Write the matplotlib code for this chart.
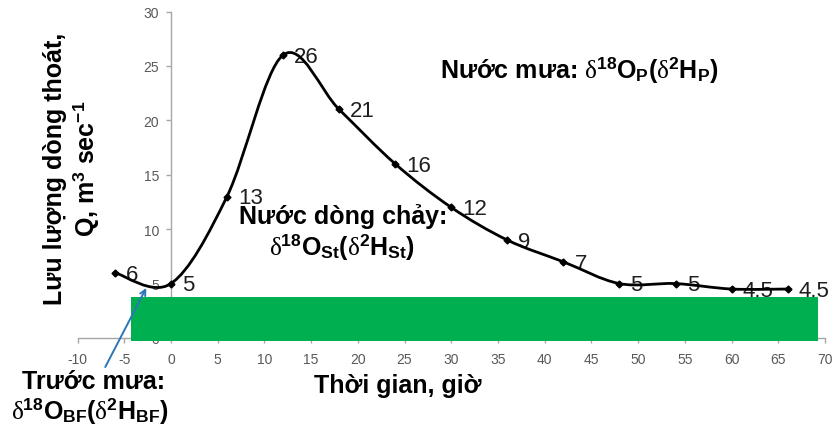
import numpy as np
import matplotlib
matplotlib.use("Agg")
import matplotlib.pyplot as plt
from matplotlib.path import Path
from matplotlib.patches import PathPatch, Rectangle

# data
hours = [-6, 0, 6, 12, 18, 24, 30, 36, 42, 48, 54, 60, 66]
flow = [6, 5, 13, 26, 21, 16, 12, 9, 7, 5, 5, 4.5, 4.5]
flow_labels = ["6", "5", "13", "26", "21", "16", "12", "9", "7", "5", "5", "4.5", "4.5"]
xticks = list(range(-10, 71, 5))
yticks = list(range(0, 31, 5))

plt.rcParams['font.family'] = ['Liberation Sans', 'DejaVu Sans']
plt.rcParams['mathtext.fontset'] = 'custom'
plt.rcParams['mathtext.rm'] = 'Liberation Serif'
plt.rcParams['mathtext.it'] = 'Liberation Serif:italic'
plt.rcParams['mathtext.bf'] = 'Liberation Sans:bold'
plt.rcParams['mathtext.sf'] = 'Liberation Sans'

W, H = 832, 427
fig = plt.figure(figsize=(W/100, H/100), dpi=100)
ax = fig.add_axes([77.5/W, 1-339/H, (825-77.5)/W, (339-12.5)/H])
ax.set_xlim(-10, 70)
ax.set_ylim(0, 30)

# excel-like smoothed line (bezier through the points)
def smooth_path(xs, ys):
    pts = np.column_stack([xs, ys]).astype(float)
    n = len(pts)
    verts = [pts[0]]
    codes = [Path.MOVETO]
    for i in range(n-1):
        p0 = pts[max(i-1, 0)]
        p1 = pts[i]
        p2 = pts[i+1]
        p3 = pts[min(i+2, n-1)]
        verts += [p1 + (p2-p0)/6, p2 - (p3-p1)/6, p2]
        codes += [Path.CURVE4]*3
    return Path(verts, codes)

ax.add_patch(PathPatch(smooth_path(hours, flow), fill=False, edgecolor='black',
                       lw=2.0, zorder=4, capstyle='round', joinstyle='round'))
ax.plot(hours, flow, linestyle='none', marker='D', ms=3.5, color='black', zorder=5)

for xv, yv, lab in zip(hours, flow, flow_labels):
    ax.annotate(lab, (xv, yv), xytext=(8, -1), textcoords='offset points',
                ha='left', va='center', fontsize=16, color='#1e1e1e',
                annotation_clip=False, zorder=3)

# axes styling
axis_gray = '#a6a6a6'
for s in ['top', 'right']:
    ax.spines[s].set_visible(False)
ax.spines['left'].set_position(('data', 0))
ax.spines['left'].set_color(axis_gray)
ax.spines['bottom'].set_color(axis_gray)
ax.spines['left'].set_linewidth(1.0)
ax.spines['bottom'].set_linewidth(1.0)
ax.set_xticks(xticks)
ax.set_yticks(yticks)
ax.tick_params(axis='both', direction='out', length=3.6, width=1.0,
               color=axis_gray, labelsize=10, labelcolor='#595959')
ax.tick_params(axis='x', pad=6.5)
ax.tick_params(axis='y', pad=5)
ax.set_xticklabels([str(v) for v in xticks])
ax.set_yticklabels([str(v) for v in yticks])

# green box over the bottom of the plot
ax.add_patch(Rectangle((-4.25, -0.28), 73.45, 4.09, facecolor='#00b050',
                       edgecolor='none', zorder=10, clip_on=False))

# blue arrow to the pre-event baseflow
ax.annotate('', xy=(-2.64, 4.6), xytext=(-7.03, -2.67),
            arrowprops=dict(arrowstyle='->', color='#2e75b6', lw=1.4,
                            shrinkA=0, shrinkB=0),
            annotation_clip=False, zorder=11)

big = dict(fontsize=18, fontweight='bold', color='black')
fig.text(55/W, 1-169/H, "Lưu lượng dòng thoát,", rotation=90,
         ha='center', va='center', **big)
fig.text(86/W, 1-169/H, r"Q, $\mathbf{m}^{\mathbf{3}}$ $\mathbf{sec}^{\mathbf{-1}}$",
         rotation=90, ha='center', va='center', **big)
fig.text(398/W, 1-393/H, "Thời gian, giờ", ha='center', va='baseline', **big)

fig.text(440/W, 1-78/H,
         r"Nước mưa: $\mathrm{\delta}^{\mathbf{18}}\mathbf{O}_{\mathbf{P}}$($\mathrm{\delta}^{\mathbf{2}}\mathbf{H}_{\mathbf{P}}$)",
         ha='left', va='baseline', **big)
fig.text(343/W, 1-224/H, "Nước dòng chảy:", ha='center', va='baseline', **big)
fig.text(342/W, 1-255/H,
         r"$\mathrm{\delta}^{\mathbf{18}}\mathbf{O}_{\mathbf{St}}$($\mathrm{\delta}^{\mathbf{2}}\mathbf{H}_{\mathbf{St}}$)",
         ha='center', va='baseline', **big)
fig.text(93.5/W, 1-389/H, "Trước mưa:", ha='center', va='baseline', **big)
fig.text(89.5/W, 1-419/H,
         r"$\mathrm{\delta}^{\mathbf{18}}\mathbf{O}_{\mathbf{BF}}$($\mathrm{\delta}^{\mathbf{2}}\mathbf{H}_{\mathbf{BF}}$)",
         ha='center', va='baseline', **big)

fig.savefig("out.png", dpi=100)
